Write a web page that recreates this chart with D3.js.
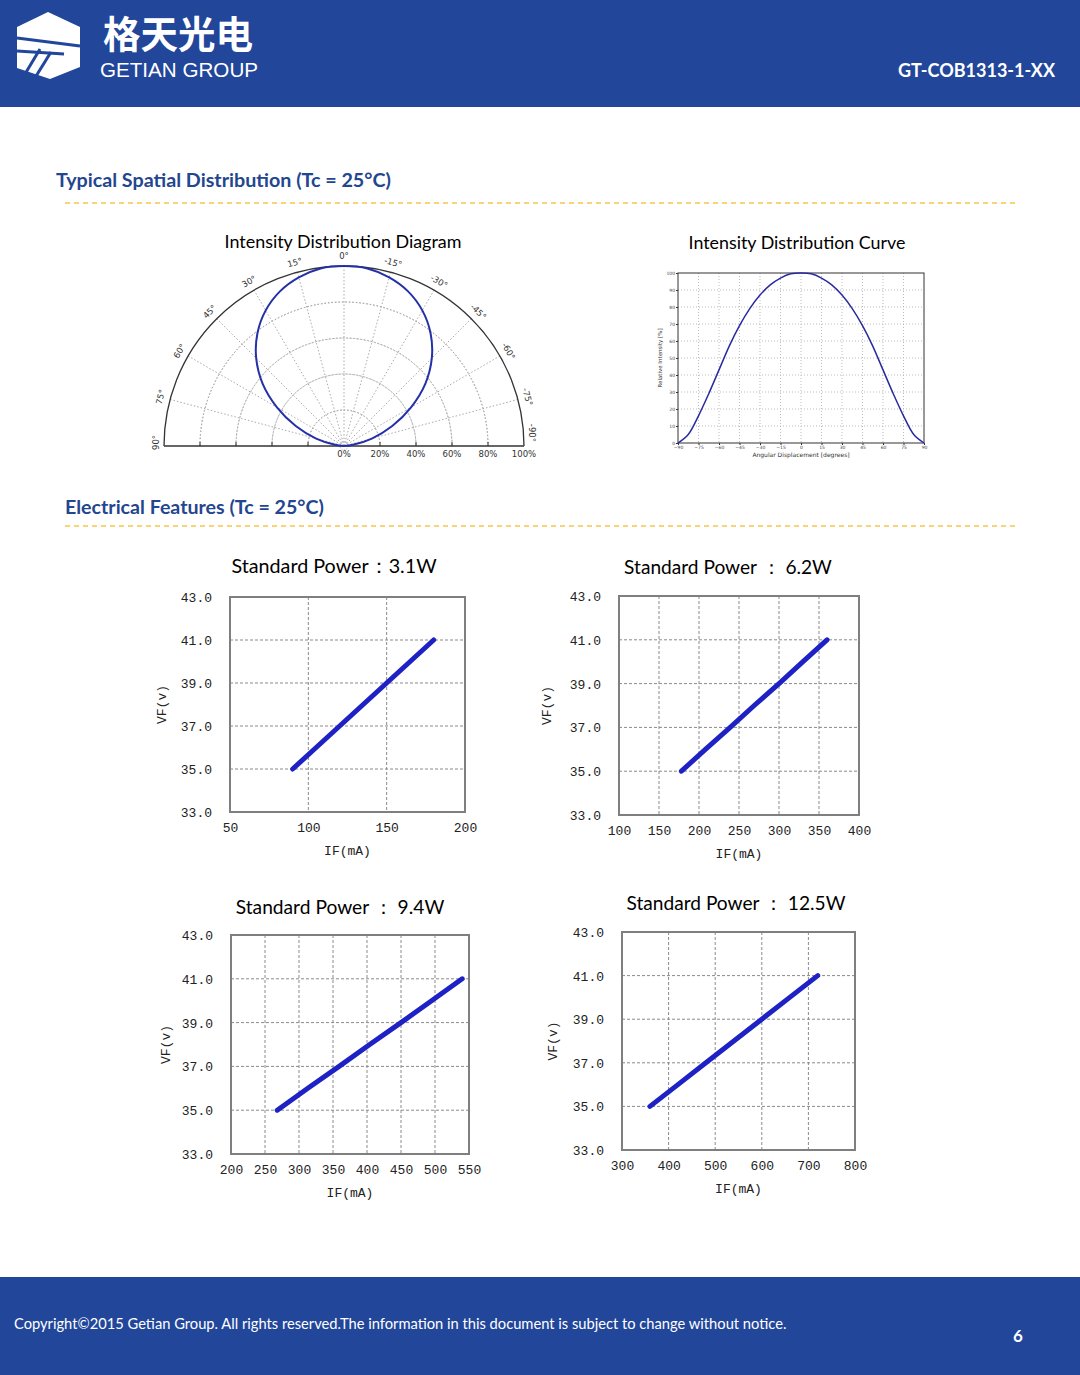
<!DOCTYPE html>
<html><head><meta charset="utf-8">
<script src="https://cdn.jsdelivr.net/npm/d3@7"></script>
<style>html,body{margin:0;padding:0;background:#fff;}svg{display:block;}</style>
</head><body>
<svg id="page" width="1080" height="1375"></svg>
<script>
// ---------------- DATA ----------------
const angleDeg = [-90,-82.5,-75,-67.5,-60,-52.5,-45,-37.5,-30,-22.5,-15,-7.5,0,7.5,15,22.5,30,37.5,45,52.5,60,67.5,75,82.5,90];
const relIntensity = [0,5,16,29,43,57,69,79,87,93,97,99.5,100,99.5,97,93,87,79,69,57,43,29,16,5,0];
const polarRingPct = [20,40,60,80,100];
const polarRingLabels = ["0%","20%","40%","60%","80%","100%"];
const polarAngleLabels = [0,15,30,45,60,75,90];
const curveXTicks = [-90,-75,-60,-45,-30,-15,0,15,30,45,60,75,90];
const curveYTicks = [0,10,20,30,40,50,60,70,80,90,100];

const vfTicks = [33,35,37,39,41,43];
const vfValues = [35.0,36.0,37.0,38.0,39.0,40.0,41.0];
const if31 = [90,105,120,135,150,165,180];
const if62 = [178,208,239,269,300,330,360];
const if94 = [268,313,359,404,450,495,540];
const if125 = [360,420,480,540,600,660,720];
const xTicks31 = [50,100,150,200];
const xTicks62 = [100,150,200,250,300,350,400];
const xTicks94 = [200,250,300,350,400,450,500,550];
const xTicks125 = [300,400,500,600,700,800];
const titles = ["Standard Power：3.1W","Standard Power ： 6.2W","Standard Power ： 9.4W","Standard Power ： 12.5W"];

// ---------------- PAGE ----------------
const svg = d3.select("#page");
const BLUE = "#21469a";
const TITLE_BLUE = "#23468f";
const SANS = "Lato, 'Open Sans', sans-serif";
const MONO = "'Liberation Mono', monospace";

function fit(sel, w){
  const n = sel.node(); const fs = parseFloat(sel.attr("font-size"));
  const L = n.getComputedTextLength(); if (L>0) sel.attr("font-size", (fs*w/L).toFixed(2));
  return sel;
}
function text(x,y,str,opt={}){
  const t = svg.append("text").attr("x",x).attr("y",y).text(str)
    .attr("font-family",opt.family||SANS).attr("font-size",opt.size||14)
    .attr("fill",opt.fill||"#000").attr("font-weight",opt.weight||"normal")
    .attr("text-anchor",opt.anchor||"start");
  if (opt.width) fit(t,opt.width);
  return t;
}

// header & footer
svg.append("rect").attr("x",0).attr("y",0).attr("width",1080).attr("height",107).attr("fill",BLUE);
svg.append("rect").attr("x",0).attr("y",1277).attr("width",1080).attr("height",98).attr("fill",BLUE);

// logo
const logo = svg.append("g");
logo.append("path").attr("d","M48,12 L80,27 L80,67 L50,79 L17,68 L17,27 Z").attr("fill","#fff");
[["M17,38 L80,46",3],["M17,51 L64,54",3],["M22,79 L40,49",3],["M33,81 L51,52",3]].forEach(([d,w])=>
  logo.append("path").attr("d",d).attr("stroke",BLUE).attr("stroke-width",w).attr("fill","none"));
text(103,48,"格天光电",{family:"'Noto Sans CJK SC', sans-serif",size:36,weight:"bold",fill:"#fff",width:150});
text(100,77,"GETIAN GROUP",{family:"'Liberation Sans', sans-serif",size:16,fill:"#fff",width:158});
text(1055,77,"GT-COB1313-1-XX",{size:17,weight:"bold",fill:"#fff",anchor:"end",width:157});

text(14,1329,"Copyright©2015 Getian Group. All rights reserved.The information in this document is subject to change without notice.",{size:14,fill:"#fff",width:773});
text(1018,1342,"6",{size:17,weight:"bold",fill:"#fff",anchor:"middle"});

// section titles
text(56,187,"Typical Spatial Distribution (Tc = 25°C)",{size:19,weight:"bold",fill:TITLE_BLUE,width:335});
text(65,514,"Electrical Features (Tc = 25°C)",{size:19,weight:"bold",fill:TITLE_BLUE,width:259});
[203,526].forEach(yy=>svg.append("line").attr("x1",65).attr("x2",1015).attr("y1",yy).attr("y2",yy)
  .attr("stroke","#f5c84a").attr("stroke-width",1.5).attr("stroke-dasharray","5,4"));

// ---------------- POLAR DIAGRAM ----------------
text(343,248,"Intensity Distribution Diagram",{size:17,anchor:"middle",width:237});
{
  const cx=344, cy=446, R=180;
  const r = d3.scaleLinear([0,100],[0,R]);
  const g = svg.append("g").attr("transform",`translate(${cx},${cy})`);
  polarRingPct.slice(0,4).forEach(p=>{
    g.append("path").attr("d",d3.arc()({innerRadius:r(p),outerRadius:r(p),startAngle:-Math.PI/2,endAngle:Math.PI/2}))
      .attr("fill","none").attr("stroke","#aaa").attr("stroke-width",1).attr("stroke-dasharray","1.5,2");
  });
  g.append("circle").attr("r",4).attr("fill","none").attr("stroke","#aaa").attr("stroke-dasharray","1,1.5");
  d3.range(-75,90,15).forEach(a=>{
    const t=a*Math.PI/180;
    g.append("line").attr("x1",0).attr("y1",0).attr("x2",-R*Math.sin(t)).attr("y2",-R*Math.cos(t))
      .attr("stroke","#aaa").attr("stroke-width",1).attr("stroke-dasharray","1.5,2");
  });
  g.append("path").attr("d",d3.arc()({innerRadius:R,outerRadius:R,startAngle:-Math.PI/2,endAngle:Math.PI/2}))
    .attr("fill","none").attr("stroke","#333").attr("stroke-width",1.3);
  g.append("line").attr("x1",-R).attr("x2",R).attr("y1",0).attr("y2",0).attr("stroke","#333").attr("stroke-width",1.3);
  polarRingPct.slice(0,4).forEach(p=>{
    [-1,1].forEach(s=>g.append("line").attr("x1",s*r(p)).attr("x2",s*r(p)).attr("y1",0).attr("y2",-4).attr("stroke","#333"));
  });
  polarRingLabels.forEach((lab,i)=>{
    g.append("text").attr("x",r(i*20)).attr("y",11).attr("text-anchor","middle")
      .attr("font-family","'DejaVu Sans', sans-serif").attr("font-size",8.5).attr("fill","#333").text(lab);
  });
  polarAngleLabels.forEach(a=>{
    [1,-1].forEach(s=>{
      if (a===0 && s===-1) return;
      const deg = a*s;
      const lab = (deg===0?"0":(s<0?"-"+a:""+a))+"°";
      const t = deg*Math.PI/180, rr = R+7;
      let x=-rr*Math.sin(t), y=-rr*Math.cos(t), rot=-deg;
      if (a===90){ x = s>0? -R-5 : R+5; y = s>0? 4: -4; rot = s>0?-90:90; }
      g.append("text").attr("transform",`translate(${x},${y}) rotate(${rot})`)
        .attr("text-anchor",a===90?(s>0?"start":"end"):"middle")
        .attr("font-family","'DejaVu Sans', sans-serif").attr("font-size",8.5).attr("fill","#333").text(lab);
    });
  });
  const pts = angleDeg.map((a,i)=>({a, v:relIntensity[i]}));
  g.append("path").datum(pts)
    .attr("d",d3.lineRadial().angle(d=>-d.a*Math.PI/180).radius(d=>r(d.v)).curve(d3.curveCatmullRom))
    .attr("fill","none").attr("stroke","#2430a8").attr("stroke-width",2);
}

// ---------------- INTENSITY CURVE ----------------
text(797,249,"Intensity Distribution Curve",{size:17,anchor:"middle",width:217});
{
  const L=678,Rr=924,T=273,B=443;
  const x=d3.scaleLinear([-90,90],[L,Rr]), y=d3.scaleLinear([0,100],[B,T]);
  const g=svg.append("g");
  curveXTicks.slice(1,-1).forEach(v=>g.append("line").attr("x1",x(v)).attr("x2",x(v)).attr("y1",T).attr("y2",B)
    .attr("stroke","#bbb").attr("stroke-dasharray","1,2"));
  curveYTicks.slice(1,-1).forEach(v=>g.append("line").attr("x1",L).attr("x2",Rr).attr("y1",y(v)).attr("y2",y(v))
    .attr("stroke","#bbb").attr("stroke-dasharray","1,2"));
  g.append("rect").attr("x",L).attr("y",T).attr("width",Rr-L).attr("height",B-T).attr("fill","none").attr("stroke","#333").attr("stroke-width",1);
  const ax=g.append("g").attr("transform",`translate(0,${B})`).call(d3.axisBottom(x).tickValues(curveXTicks).tickSize(2).tickPadding(1));
  const ay=g.append("g").attr("transform",`translate(${L},0)`).call(d3.axisLeft(y).tickValues(curveYTicks).tickSize(2).tickPadding(1));
  [ax,ay].forEach(a=>{a.select(".domain").remove();a.selectAll("text").attr("font-size",4.5).attr("fill","#444").attr("font-family","'DejaVu Sans',sans-serif");a.selectAll("line").attr("stroke","#333");});
  g.append("text").attr("x",(L+Rr)/2).attr("y",457).attr("text-anchor","middle").attr("font-size",6)
    .attr("font-family","'DejaVu Sans',sans-serif").attr("fill","#333").text("Angular Displacement [degrees]");
  g.append("text").attr("transform",`translate(662,${(T+B)/2}) rotate(-90)`).attr("text-anchor","middle").attr("font-size",5.5)
    .attr("font-family","'DejaVu Sans',sans-serif").attr("fill","#333").text("Relative Intensity [%]");
  const pts=angleDeg.map((a,i)=>({a,v:relIntensity[i]}));
  g.append("path").datum(pts).attr("d",d3.line().x(d=>x(d.a)).y(d=>y(d.v)).curve(d3.curveCatmullRom))
    .attr("fill","none").attr("stroke","#2a2aa0").attr("stroke-width",1.5);
}

// ---------------- IV CHARTS ----------------
const panels = [
  {ifs:if31, ticks:xTicks31, title:titles[0], L:230,R:465,T:597,B:812, tx:334,ty:573,tw:205, yl:166},
  {ifs:if62, ticks:xTicks62, title:titles[1], L:619,R:859,T:596,B:815, tx:728,ty:574,tw:208, yl:551},
  {ifs:if94, ticks:xTicks94, title:titles[2], L:231,R:469,T:935,B:1154, tx:340,ty:914,tw:209, yl:170},
  {ifs:if125,ticks:xTicks125,title:titles[3], L:622,R:855,T:932,B:1150, tx:736,ty:910,tw:219, yl:557}
];
panels.forEach(p=>{
  const x=d3.scaleLinear([p.ticks[0],p.ticks[p.ticks.length-1]],[p.L,p.R]);
  const y=d3.scaleLinear([33,43],[p.B,p.T]);
  const g=svg.append("g");
  p.ticks.slice(1,-1).forEach(v=>g.append("line").attr("x1",x(v)).attr("x2",x(v)).attr("y1",p.T).attr("y2",p.B)
    .attr("stroke","#8a8a8a").attr("stroke-dasharray","3,2").attr("stroke-width",1));
  vfTicks.slice(1,-1).forEach(v=>g.append("line").attr("x1",p.L).attr("x2",p.R).attr("y1",y(v)).attr("y2",y(v))
    .attr("stroke","#8a8a8a").attr("stroke-dasharray","3,2").attr("stroke-width",1));
  g.append("rect").attr("x",p.L).attr("y",p.T).attr("width",p.R-p.L).attr("height",p.B-p.T)
    .attr("fill","none").attr("stroke","#7f7f7f").attr("stroke-width",2);
  const ay=g.append("g").attr("transform",`translate(${p.L},0)`)
    .call(d3.axisLeft(y).tickValues(vfTicks).tickFormat(d3.format(".1f")).tickSize(0).tickPadding(18));
  const ax=g.append("g").attr("transform",`translate(0,${p.B})`)
    .call(d3.axisBottom(x).tickValues(p.ticks).tickSize(0).tickPadding(11));
  [ax,ay].forEach(a=>{a.select(".domain").remove();a.selectAll("text").attr("font-family",MONO).attr("font-size",13).attr("fill","#222");});
  ay.selectAll("text").attr("dy","0.35em");
  g.append("text").attr("x",(p.L+p.R)/2).attr("y",p.B+43).attr("text-anchor","middle")
    .attr("font-family",MONO).attr("font-size",13).attr("fill","#222").text("IF(mA)");
  g.append("text").attr("transform",`translate(${p.yl},${(p.T+p.B)/2}) rotate(-90)`).attr("text-anchor","middle")
    .attr("font-family",MONO).attr("font-size",13).attr("fill","#222").text("VF(v)");
  const pts=p.ifs.map((v,i)=>({i:v,v:vfValues[i]}));
  g.append("path").datum(pts).attr("d",d3.line().x(d=>x(d.i)).y(d=>y(d.v)))
    .attr("fill","none").attr("stroke","#1e22c4").attr("stroke-width",5).attr("stroke-linecap","round");
  text(p.tx,p.ty,p.title,{size:18,anchor:"middle",width:p.tw});
});
</script>
</body></html>
